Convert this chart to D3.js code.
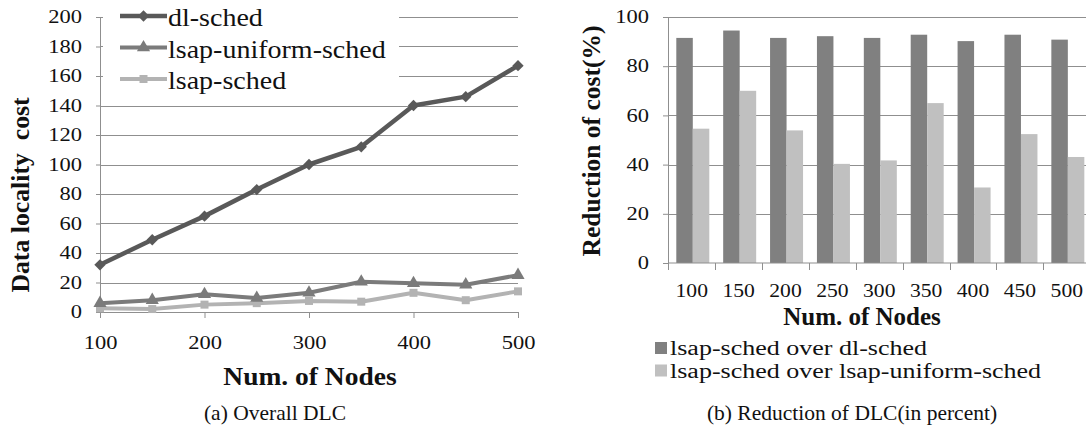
<!DOCTYPE html>
<html>
<head>
<meta charset="utf-8">
<script src="https://cdn.jsdelivr.net/npm/d3@7"></script>
<style>
  body { margin: 0; background: #fff; }
  text { font-family: "Liberation Serif", "Times New Roman", serif; fill: #111; }
</style>
</head>
<body>
<div id="fig"></div>
<script>
// --------------------------------------------------
// data

// (a) Overall DLC
var nodes = [100, 150, 200, 250, 300, 350, 400, 450, 500];
var dlSched = [32, 49, 65, 83, 100, 112, 140, 146, 167];
var lsapUniformSched = [6, 8, 12, 9.5, 13, 20.5, 19.5, 18.5, 25];
var lsapSched = [2.5, 2, 5, 6, 7.5, 7, 13, 8, 14];
var leftYTicks = [0, 20, 40, 60, 80, 100, 120, 140, 160, 180, 200];
var leftXTicks = [100, 200, 300, 400, 500];
var lineNames = ["dl-sched", "lsap-uniform-sched", "lsap-sched"];

// (b) Reduction of DLC (in percent)
var barCategories = ["100", "150", "200", "250", "300", "350", "400", "450", "500"];
var overDlSched = [91.5, 94.5, 91.5, 92.2, 91.5, 92.8, 90.2, 92.8, 90.8];
var overUniformSched = [54.6, 70, 53.9, 40.3, 41.7, 65, 30.7, 52.4, 43.1];
var rightYTicks = [0, 20, 40, 60, 80, 100];
var barNames = ["lsap-sched over dl-sched", "lsap-sched over lsap-uniform-sched"];

// --------------------------------------------------

var W = 1086, H = 430;
var gridColor = "#8f8f8f";

var svg = d3.select("#fig")
    .append("svg")
    .attr("width", W)
    .attr("height", H);

// widen text glyphs a little, the figure is a bit stretched
function stretch(sel, k) {
    sel.each(function() {
        var w = this.getComputedTextLength();
        d3.select(this)
            .attr("textLength", w * k)
            .attr("lengthAdjust", "spacingAndGlyphs");
    });
}

// ================= left chart =================
var x = d3.scaleLinear().domain([100, 500]).range([100, 518]);
var y = d3.scaleLinear().domain([0, 200]).range([312, 17]);

var left = svg.append("g");

// gridlines
left.append("g")
    .selectAll("line")
    .data(leftYTicks.slice(1))
    .enter()
    .append("line")
    .attr("x1", x(100))
    .attr("x2", x(500))
    .attr("y1", function(d) { return Math.round(y(d)) + 0.5; })
    .attr("y2", function(d) { return Math.round(y(d)) + 0.5; })
    .attr("stroke", gridColor);

// y axis
var yAxisL = left.append("g")
    .attr("transform", "translate(" + x(100) + ",0)")
    .call(d3.axisLeft(y).tickValues(leftYTicks).tickSize(4).tickSizeOuter(0).tickPadding(14));
yAxisL.select(".domain").attr("stroke", gridColor);
yAxisL.selectAll(".tick line").attr("stroke", gridColor);
yAxisL.selectAll("text")
    .attr("font-size", "18px")
    .attr("font-family", "Liberation Serif")
    .attr("fill", "#111")
    .call(stretch, 1.25);

// x axis
var xAxisL = left.append("g")
    .attr("transform", "translate(0," + y(0) + ")")
    .call(d3.axisBottom(x).tickValues(leftXTicks).tickSize(6).tickSizeOuter(0).tickPadding(18));
xAxisL.select(".domain").attr("stroke", gridColor);
xAxisL.selectAll(".tick line").attr("stroke", gridColor);
xAxisL.selectAll("text")
    .attr("font-size", "18px")
    .attr("font-family", "Liberation Serif")
    .attr("fill", "#111")
    .call(stretch, 1.25);

// series
var series = [
    { name: lineNames[0], values: dlSched, color: "#595959", width: 4.5, shape: "diamond" },
    { name: lineNames[1], values: lsapUniformSched, color: "#7b7b7b", width: 4, shape: "triangle" },
    { name: lineNames[2], values: lsapSched, color: "#b3b3b3", width: 4, shape: "square" }
];

function marker(shape) {
    if (shape == "diamond") return d3.symbol(d3.symbolSquare, 64)();
    if (shape == "triangle") return d3.symbol(d3.symbolTriangle, 75)();
    return d3.symbol(d3.symbolSquare, 64)();
}

var line = d3.line()
    .x(function(d, i) { return x(nodes[i]); })
    .y(function(d) { return y(d); });

// draw lightest first so dl-sched sits on top
series.slice().reverse().forEach(function(s) {
    left.append("path")
        .attr("d", line(s.values))
        .attr("fill", "none")
        .attr("stroke", s.color)
        .attr("stroke-width", s.width)
        .attr("stroke-linejoin", "round");
    left.selectAll(null)
        .data(s.values)
        .enter()
        .append("path")
        .attr("d", marker(s.shape))
        .attr("transform", function(d, i) {
            return "translate(" + x(nodes[i]) + "," + y(d) + ")" +
                (s.shape == "diamond" ? " rotate(45)" : "");
        })
        .attr("fill", s.color);
});

// legend box (covers the top gridlines)
var legL = left.append("g");
legL.append("rect")
    .attr("x", 103)
    .attr("y", 0)
    .attr("width", 296)
    .attr("height", 96)
    .attr("fill", "#fff");

series.forEach(function(s, i) {
    var ly = 26 + i * 31.5;
    legL.append("line")
        .attr("x1", 120)
        .attr("x2", 167)
        .attr("y1", ly - 10)
        .attr("y2", ly - 10)
        .attr("stroke", s.color)
        .attr("stroke-width", s.width);
    legL.append("path")
        .attr("d", marker(s.shape))
        .attr("transform", "translate(143.5," + (ly - 10) + ")" +
            (s.shape == "diamond" ? " rotate(45)" : ""))
        .attr("fill", s.color);
    legL.append("text")
        .attr("x", 168)
        .attr("y", ly)
        .attr("font-size", "25px")
        .text(s.name)
        .call(stretch, 1.12);
});

// axis titles
left.append("text")
    .attr("x", 310)
    .attr("y", 385)
    .attr("text-anchor", "middle")
    .attr("font-size", "25px")
    .attr("font-weight", "bold")
    .text("Num. of Nodes")
    .call(stretch, 1.1);

left.append("text")
    .attr("transform", "translate(29,195) rotate(-90)")
    .attr("text-anchor", "middle")
    .attr("font-size", "25px")
    .attr("font-weight", "bold")
    .style("white-space", "pre")
    .text("Data locality  cost")
    .call(stretch, 1.03);

// ================= right chart =================
var x0 = d3.scaleBand().domain(barCategories).range([668.3, 668.3 + 9 * 46.88]).padding(0);
var x1 = d3.scaleBand().domain([0, 1]).range([8, 41]).padding(0);
var yR = d3.scaleLinear().domain([0, 100]).range([263, 17]);
var barColors = ["#808080", "#c0c0c0"];

var right = svg.append("g");

right.append("g")
    .selectAll("line")
    .data(rightYTicks.slice(1))
    .enter()
    .append("line")
    .attr("x1", 668)
    .attr("x2", W)
    .attr("y1", function(d) { return Math.round(yR(d)) + 0.5; })
    .attr("y2", function(d) { return Math.round(yR(d)) + 0.5; })
    .attr("stroke", gridColor);

// bars
var barData = [];
barCategories.forEach(function(c, i) {
    barData.push({ cat: c, s: 0, v: overDlSched[i] });
    barData.push({ cat: c, s: 1, v: overUniformSched[i] });
});
right.selectAll("rect")
    .data(barData)
    .enter()
    .append("rect")
    .attr("x", function(d) { return x0(d.cat) + x1(d.s); })
    .attr("y", function(d) { return yR(d.v); })
    .attr("width", x1.bandwidth())
    .attr("height", function(d) { return yR(0) - yR(d.v); })
    .attr("fill", function(d) { return barColors[d.s]; });

// y axis
var yAxisR = right.append("g")
    .attr("transform", "translate(668,0)")
    .call(d3.axisLeft(yR).tickValues(rightYTicks).tickSize(5).tickSizeOuter(0).tickPadding(14));
yAxisR.select(".domain").attr("stroke", gridColor);
yAxisR.selectAll(".tick line").attr("stroke", gridColor);
yAxisR.selectAll("text")
    .attr("font-size", "18px")
    .attr("font-family", "Liberation Serif")
    .attr("fill", "#111")
    .call(stretch, 1.25);

// x axis: ticks on category edges, labels in the middle
var xAxisR = right.append("g")
    .attr("transform", "translate(0," + yR(0) + ")");
xAxisR.append("line")
    .attr("x1", 668)
    .attr("x2", W)
    .attr("stroke", gridColor);
xAxisR.selectAll(".edge")
    .data(barCategories)
    .enter()
    .append("line")
    .attr("class", "edge")
    .attr("x1", function(d) { return Math.round(x0(d)) + 0.5; })
    .attr("x2", function(d) { return Math.round(x0(d)) + 0.5; })
    .attr("y1", 0)
    .attr("y2", 7)
    .attr("stroke", gridColor);
xAxisR.selectAll("text")
    .data(barCategories)
    .enter()
    .append("text")
    .attr("x", function(d) { return x0(d) + x0.bandwidth() / 2; })
    .attr("y", 34)
    .attr("text-anchor", "middle")
    .attr("font-size", "18px")
    .text(function(d) { return d; })
    .call(stretch, 1.2);

right.append("text")
    .attr("x", 862)
    .attr("y", 325)
    .attr("text-anchor", "middle")
    .attr("font-size", "25px")
    .attr("font-weight", "bold")
    .text("Num. of Nodes");

right.append("text")
    .attr("transform", "translate(600,141) rotate(-90)")
    .attr("text-anchor", "middle")
    .attr("font-size", "25px")
    .attr("font-weight", "bold")
    .text("Reduction of cost(%)")
    .call(stretch, 1.02);

// legend
barNames.forEach(function(n, i) {
    var ly = 355 + i * 22.5;
    right.append("rect")
        .attr("x", 655)
        .attr("y", ly - 13)
        .attr("width", 12)
        .attr("height", 12)
        .attr("fill", barColors[i]);
    right.append("text")
        .attr("x", 670)
        .attr("y", ly)
        .attr("font-size", "20px")
        .text(n)
        .call(stretch, 1.3);
});

// ================= captions =================
svg.append("text")
    .attr("x", 275)
    .attr("y", 420)
    .attr("text-anchor", "middle")
    .attr("font-size", "21.5px")
    .text("(a) Overall DLC");

svg.append("text")
    .attr("x", 852)
    .attr("y", 420)
    .attr("text-anchor", "middle")
    .attr("font-size", "21.5px")
    .text("(b) Reduction of DLC(in percent)");
</script>
</body>
</html>
